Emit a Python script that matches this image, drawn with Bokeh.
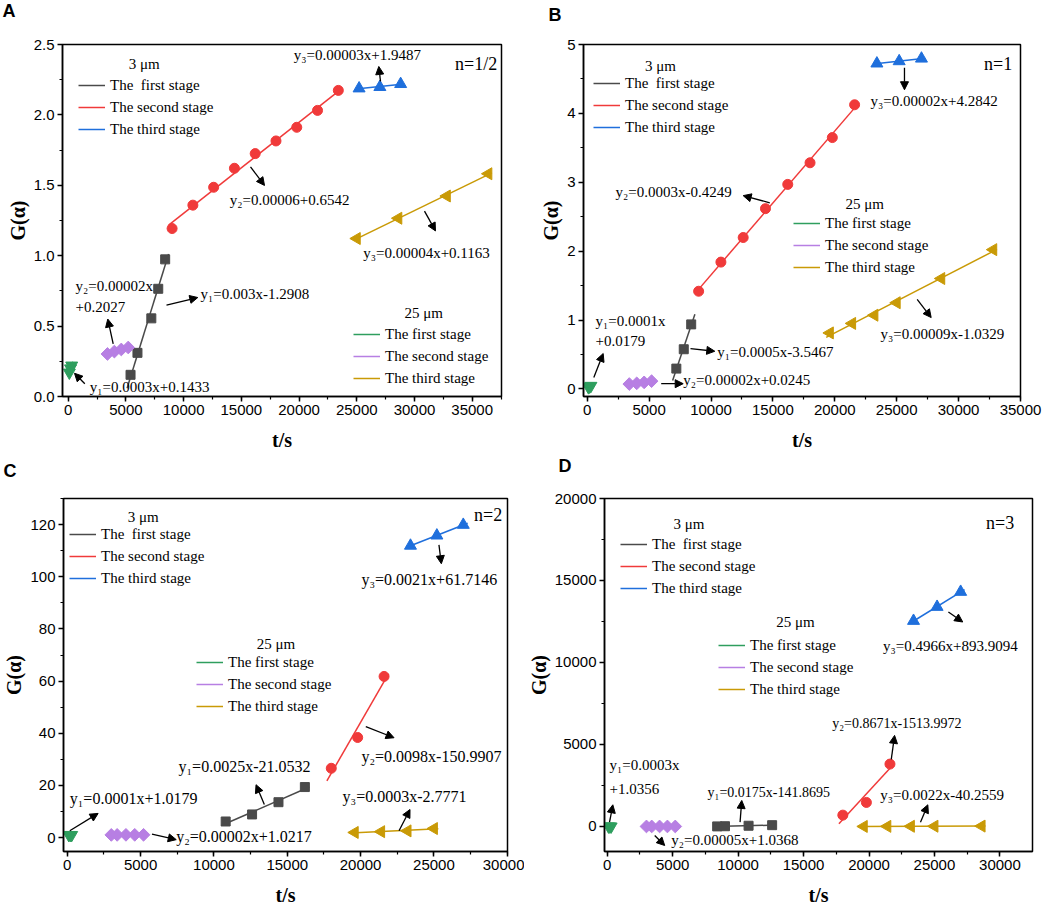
import numpy as np
from bokeh.plotting import figure
from bokeh.models import (Legend, LegendItem, Label, Arrow, NormalHead, Range1d, Title,
                          SingleIntervalTicker, NumeralTickFormatter)
from bokeh.layouts import column, row
from bokeh.embed import file_html
from bokeh.resources import INLINE

SERIF = "Liberation Serif"
SANS = "Liberation Sans"

# ---------------- data ----------------
stage_labels_3 = ["The  first stage", "The second stage", "The third stage"]
stage_labels_25 = ["The first stage", "The second stage", "The third stage"]

# Panel A (n=1/2)
A_black_x = [5400, 6000, 7200, 7800, 8400]
A_black_y = [0.154, 0.310, 0.555, 0.765, 0.974]
A_red_x = [9000, 10800, 12600, 14400, 16200, 18000, 19800, 21600, 23400]
A_red_y = [1.193, 1.359, 1.486, 1.621, 1.725, 1.815, 1.912, 2.032, 2.174]
A_blue_x = [25200, 27000, 28800]
A_blue_y = [2.188, 2.198, 2.219]
A_green_x = [100, 200, 300]
A_green_y = [0.17, 0.20, 0.22]
A_purple_x = [3400, 4000, 4600, 5200]
A_purple_y = [0.302, 0.319, 0.334, 0.348]
A_gold_x = [25000, 28600, 32800, 36400]
A_gold_y = [1.122, 1.266, 1.424, 1.582]

# Panel B (n=1)
B_black_x = [7200, 7800, 8400]
B_black_y = [0.295, 0.576, 0.937]
B_red_x = [9000, 10800, 12600, 14400, 16200, 18000, 19800, 21600]
B_red_y = [1.418, 1.841, 2.198, 2.617, 2.969, 3.283, 3.649, 4.125]
B_blue_x = [23400, 25200, 27000]
B_blue_y = [4.724, 4.757, 4.795]
B_green_x = [100, 200, 300]
B_green_y = [0.025, 0.035, 0.045]
B_purple_x = [3400, 4000, 4600, 5200]
B_purple_y = [0.071, 0.081, 0.095, 0.113]
B_gold_x = [19600, 21400, 23200, 25000, 28600, 32800]
B_gold_y = [0.813, 0.951, 1.070, 1.251, 1.603, 2.022]

# Panel C (n=2)
C_black_x = [10800, 12600, 14400, 16200]
C_black_y = [6.2, 8.9, 13.6, 19.4]
C_red_x = [18000, 19800, 21600]
C_red_y = [26.6, 38.4, 61.8]
C_blue_x = [23400, 25200, 27000]
C_blue_y = [111.9, 115.8, 119.9]
C_green_x = [100, 200, 300]
C_green_y = [1.03, 1.04, 1.05]
C_purple_x = [3000, 3400, 4000, 4600, 5200]
C_purple_y = [1.06, 1.07, 1.08, 1.09, 1.10]
C_gold_x = [19600, 21400, 23200, 25000]
C_gold_y = [2.0, 2.3, 2.6, 3.5]

# Panel D (n=3)
D_black_x = [8400, 9000, 10800, 12600]
D_black_y = [5, 15, 45, 80]
D_red_x = [18000, 19800, 21600]
D_red_y = [692, 1465, 3805]
D_blue_x = [23400, 25200, 27000]
D_blue_y = [12536, 13390, 14306]
D_green_x = [100, 200, 300]
D_green_y = [1.06, 1.09, 1.12]
D_purple_x = [3000, 3400, 4000, 4600, 5200]
D_purple_y = [1.15, 1.17, 1.20, 1.23, 1.26]
D_gold_x = [19600, 21400, 23200, 25000, 28600]
D_gold_y = [3, 7, 11, 15, 23]

# ---------------- styles ----------------
STY = {
    "black": dict(color="#4a4a4a", marker="square", size=9, angle=0.0),
    "red": dict(color="#f03a3a", marker="circle", size=10, angle=0.0),
    "blue": dict(color="#1f6fdc", marker="triangle", size=12, angle=0.0),
    "green": dict(color="#2e9e5e", marker="inverted_triangle", size=12, angle=0.0),
    "purple": dict(color="#b77fe3", marker="square", size=9, angle=np.pi / 4),
    "gold": dict(color="#c99a06", marker="triangle", size=12, angle=np.pi / 2),
}
ORDER = ["black", "red", "blue", "green", "purple", "gold"]


def make_panel(data, xr, yr, xint, yint, yfmt, w, h, mb, letter, letter_dx, spacer,
               texts, arrows, nlab, titles, leg1, leg2, eq_size):
    l, r, t, b = mb
    p = figure(width=w, height=h, x_range=Range1d(*xr), y_range=Range1d(*yr),
               output_backend="svg", toolbar_location=None, title=letter,
               min_border_left=l, min_border_right=r, min_border_top=t, min_border_bottom=b)
    fh = h - t - b
    p.title.align = "left"
    p.title.offset = letter_dx
    p.title.vertical_align = "top"
    p.title.standoff = 0
    p.title.text_font = SANS
    p.title.text_font_style = "bold"
    p.title.text_font_size = "18px"
    p.title.text_color = "black"
    # blank spacer between the panel letter and the frame
    p.add_layout(Title(text=" ", text_font_size="8px", standoff=spacer), "above")
    p.xgrid.visible = False
    p.ygrid.visible = False
    p.outline_line_color = "black"
    p.outline_line_width = 1.5
    p.outline_line_alpha = 1.0
    p.xaxis.ticker = SingleIntervalTicker(interval=xint, num_minor_ticks=2)
    p.yaxis.ticker = SingleIntervalTicker(interval=yint, num_minor_ticks=2)
    if yfmt:
        p.yaxis.formatter = NumeralTickFormatter(format=yfmt)
    for ax in (p.xaxis[0], p.yaxis[0]):
        ax.axis_line_width = 1.5
        ax.axis_line_color = "black"
        ax.major_tick_line_width = 1.5
        ax.minor_tick_line_width = 1.2
        ax.major_tick_out = 5
        ax.major_tick_in = 0
        ax.minor_tick_out = 3
        ax.minor_tick_in = 0
        ax.major_label_text_font = SANS
        ax.major_label_text_font_size = "15px"
        ax.major_label_text_color = "black"
        ax.major_label_standoff = 3
        ax.axis_label_text_font = SERIF
        ax.axis_label_text_font_style = "bold"
        ax.axis_label_text_font_size = "20px"
        ax.axis_label_text_color = "black"
    p.xaxis.axis_label = "t/s"
    p.yaxis.axis_label = "G(α)"
    p.yaxis.axis_label_standoff = 2
    p.xaxis.axis_label_standoff = 11

    rends = {}
    for key in ORDER:
        xs, ys = data[key]
        s = STY[key]
        xa = np.asarray(xs, dtype=float)
        ya = np.asarray(ys, dtype=float)
        k, c = np.polyfit(xa, ya, 1)
        ext = min(300.0, 0.5 * (xa.max() - xa.min()))
        xl = np.array([xa.min() - ext, xa.max() + ext])
        lr = p.line(xl, k * xl + c, line_color=s["color"], line_width=1.5)
        p.scatter(xa, ya, marker=s["marker"], size=s["size"], angle=s["angle"],
                  fill_color=s["color"], line_color=s["color"])
        rends[key] = lr

    def legend(keys, labels, left, top):
        items = [LegendItem(label=lab, renderers=[rends[k]]) for k, lab in zip(keys, labels)]
        ih = 22
        lg = Legend(items=items, location=(left, fh - top - len(items) * ih),
                    background_fill_alpha=0, border_line_alpha=0, padding=0, margin=0,
                    spacing=0, glyph_width=27, glyph_height=ih, label_height=ih,
                    label_standoff=5, label_text_font=SERIF, label_text_font_size="15px",
                    label_text_color="black")
        p.add_layout(lg)

    legend(["black", "red", "blue"], stage_labels_3, *leg1)
    legend(["green", "purple", "gold"], stage_labels_25, *leg2)

    for (txt, x, y) in titles:
        p.add_layout(Label(x=x, y=y, text=txt, text_font=SERIF, text_font_size="15px",
                           text_align="center", text_baseline="middle", text_color="black"))
    for item in texts:
        txt, x, y = item[:3]
        sz = item[3] if len(item) > 3 else eq_size
        p.add_layout(Label(x=x, y=y, text=txt, text_font=SERIF, text_font_size=sz,
                           text_align="left", text_baseline="middle", text_color="black"))
    for (x0, y0, x1, y1) in arrows:
        p.add_layout(Arrow(end=NormalHead(size=8, fill_color="black", line_color="black", line_width=1),
                           x_start=x0, y_start=y0, x_end=x1, y_end=y1,
                           line_color="black", line_width=1.3))
    txt, x, y = nlab
    p.add_layout(Label(x=x, y=y, text=txt, text_font=SERIF, text_font_size="18px",
                       text_align="right", text_baseline="middle", text_color="black"))
    return p


pA = make_panel(
    {"black": (A_black_x, A_black_y), "red": (A_red_x, A_red_y), "blue": (A_blue_x, A_blue_y),
     "green": (A_green_x, A_green_y), "purple": (A_purple_x, A_purple_y), "gold": (A_gold_x, A_gold_y)},
    (-494, 37537), (0, 2.5), 5000, 0.5, "0.0", 524, 455, (62, 23, 43, 59), "A", -60, 11,
    [("y₃=0.00003x+1.9487", 19544, 2.422), ("y₂=0.00006+0.6542", 14000, 1.393),
     ("y₃=0.00004x+0.1163", 25556, 1.018), ("y₁=0.003x-1.2908", 11461, 0.727),
     ("y₂=0.00002x", 632, 0.786), ("+0.2027", 632, 0.637), ("y₁=0.0003x+0.1433", 1871, 0.066)],
    [(27055, 2.238, 26908, 2.344), (15793, 1.631, 17006, 1.499), (30866, 1.317, 31819, 1.176),
     (8516, 0.649, 11227, 0.703), (3898, 0.373, 3430, 0.550), (1438, 0.090, 546, 0.165)],
    ("n=1/2", 37164, 2.363), [("3 μm", 6592, 2.365), ("25 μm", 30806, 0.593)],
    (16, 31), (291, 280), "15px")

pB = make_panel(
    {"black": (B_black_x, B_black_y), "red": (B_red_x, B_red_y), "blue": (B_blue_x, B_blue_y),
     "green": (B_green_x, B_green_y), "purple": (B_purple_x, B_purple_y), "gold": (B_gold_x, B_gold_y)},
    (-299, 35000), (-0.11, 5.0), 5000, 1, None, 528, 455, (59, 32, 39, 58), "B", -35, 7,
    [("y₃=0.00002x+4.2842", 22882, 4.176), ("y₂=0.0003x-0.4249", 2286, 2.854),
     ("y₃=0.00009x-1.0329", 23690, 0.799), ("y₁=0.0001x", 670, 0.99), ("+0.0179", 670, 0.695),
     ("y₁=0.0005x-3.5467", 10500, 0.537), ("y₂=0.00002x+0.0245", 7754, 0.123)],
    [(25628, 4.661, 25628, 4.343), (14749, 2.702, 12600, 2.806), (26654, 1.299, 27785, 1.036),
     (533, 0.166, 1292, 0.514), (8343, 0.585, 10306, 0.547), (5977, 0.076, 7754, 0.076)],
    ("n=1", 34327, 4.724), [("3 μm", 5920, 4.685), ("25 μm", 22414, 2.687)],
    (10, 34), (210, 174), "15px")

pC = make_panel(
    {"black": (C_black_x, C_black_y), "red": (C_red_x, C_red_y), "blue": (C_blue_x, C_blue_y),
     "green": (C_green_x, C_green_y), "purple": (C_purple_x, C_purple_y), "gold": (C_gold_x, C_gold_y)},
    (-258, 30016), (-5.3, 130), 5000, 20, None, 524, 454, (62, 17, 38, 58), "C", -60, 5,
    [("y₃=0.0021x+61.7146", 20062, 98.96), ("y₂=0.0098x-150.9907", 20062, 30.97),
     ("y₁=0.0025x-21.0532", 7585, 27.4), ("y₃=0.0003x-2.7771", 18770, 15.9),
     ("y₁=0.0001x+1.0179", 170, 15.0), ("y₂=0.00002x+1.0217", 7429, 0.38)],
    [(25342, 112.2, 25505, 105.0), (20354, 42.57, 22280, 38.3), (13436, 12.7, 12871, 20.3),
     (22620, 2.64, 23368, 10.8), (170, 2.64, 2102, 9.3), (5776, 1.4, 7429, -0.76)],
    ("n=2", 29655, 123.5), [("3 μm", 5170, 122.9), ("25 μm", 14232, 74.4)],
    (6, 30), (133, 158), "16px")

pD = make_panel(
    {"black": (D_black_x, D_black_y), "red": (D_red_x, D_red_y), "blue": (D_blue_x, D_blue_y),
     "green": (D_green_x, D_green_y), "purple": (D_purple_x, D_purple_y), "gold": (D_gold_x, D_gold_y)},
    (-206, 32489), (-1526, 20000), 5000, 5000, None, 528, 454, (78, 20, 43, 58), "D", -46, 10,
    [("y₃=0.4966x+893.9094", 21067, 11004), ("y₂=0.8671x-1513.9972", 17185, 6306, "14px"),
     ("y₃=0.0022x-40.2559", 20862, 1933), ("y₁=0.0175x-141.8695", 7667, 2055, "14px"),
     ("y₁=0.0003x", 178, 3723), ("+1.0356", 178, 2299), ("y₂=0.00005x+1.0368", 4897, -854)],
    [(26064, 13079, 27160, 12469), (21700, 4089, 21954, 5554), (23931, 264, 24494, 1322),
     (10149, 264, 10279, 1587), (178, 264, 431, 1322), (3632, -549, 4393, -1160)],
    ("n=3", 31089, 18510), [("3 μm", 6243, 18431), ("25 μm", 14377, 12470)],
    (16, 35), (114, 136), "15px")

layout = column(row(pA, pB), row(pC, pD))
open("out.html", "w").write(file_html(layout, INLINE))
